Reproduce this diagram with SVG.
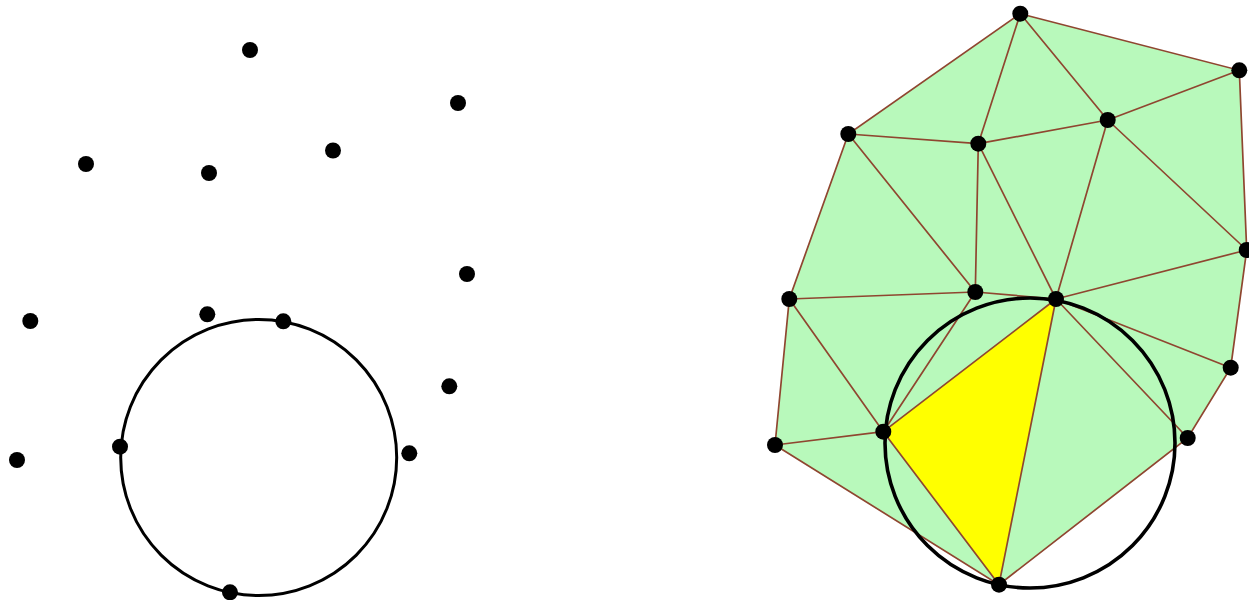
<svg xmlns="http://www.w3.org/2000/svg" width="1249" height="600" viewBox="0 0 1249 600">
<style>
.p{fill:#000}
.c{fill:none;stroke:#000;stroke-width:3}
.c2{fill:none;stroke:#000;stroke-width:3.6}
.e{fill:none;stroke:#8f4630;stroke-width:1.7}
</style>
<defs><circle id="d" class="p" r="8"/></defs>
<rect width="1249" height="600" fill="#fff"/>
<g id="left-circle"><circle class="c" cx="258.700" cy="457.500" r="138"/></g>
<g id="left-points">
<g id="l1"><use href="#d" x="250" y="50"/></g>
<g id="l2"><use href="#d" x="458" y="103"/></g>
<g id="l3"><use href="#d" x="86" y="164"/></g>
<g id="l4"><use href="#d" x="209" y="173"/></g>
<g id="l5"><use href="#d" x="333" y="150.500"/></g>
<g id="l6"><use href="#d" x="467" y="274"/></g>
<g id="l7"><use href="#d" x="30.300" y="321"/></g>
<g id="l8"><use href="#d" x="207.300" y="314.300"/></g>
<g id="l9"><use href="#d" x="283.300" y="321.300"/></g>
<g id="l10"><use href="#d" x="449.300" y="386.300"/></g>
<g id="l11"><use href="#d" x="17" y="460"/></g>
<g id="l12"><use href="#d" x="120" y="446.700"/></g>
<g id="l13"><use href="#d" x="409.300" y="453.300"/></g>
<g id="l14"><use href="#d" x="230" y="592.300"/></g>
</g>
<g id="mesh-fill">
<polygon fill="#b8f9bb" points="1020.300,13.700 1239.300,70.300 1246.700,250 1230.700,367.700 1187.700,438 999,584.700 775,445 789.300,299 848.300,134"/>
<polygon fill="#ffff00" points="883.300,431.700 1056,299 999,584.700"/>
</g>
<g id="connectors" class="e">
<path class="e" d="M1020.300 13.700L1239.300 70.300L1246.700 250L1230.700 367.700L1187.700 438L999 584.700L775 445L789.300 299L848.300 134L1020.300 13.700"/>
<path class="e" d="M1020.300 13.700L978.300 143.700M1020.300 13.700L1107.700 120M1107.700 120L1239.300 70.300M1107.700 120L978.300 143.700M978.300 143.700L848.300 134M848.300 134L975.300 292M978.300 143.700L975.300 292M978.300 143.700L1056 299M1107.700 120L1056 299M1107.700 120L1246.700 250M1056 299L1246.700 250M1056 299L1230.700 367.700M1056 299L1187.700 438M975.300 292L1056 299M975.300 292L789.300 299M975.300 292L883.300 431.700M789.300 299L883.300 431.700M883.300 431.700L775 445M883.300 431.700L1056 299M883.300 431.700L999 584.700M1056 299L999 584.700"/>
</g>
<g id="right-circle"><circle class="c2" cx="1030" cy="443" r="145"/></g>
<g id="right-points">
<g id="r1"><use href="#d" x="1020.300" y="13.700"/></g>
<g id="r2"><use href="#d" x="1239.300" y="70.300"/></g>
<g id="r3"><use href="#d" x="1107.700" y="120"/></g>
<g id="r4"><use href="#d" x="978.300" y="143.700"/></g>
<g id="r5"><use href="#d" x="848.300" y="134"/></g>
<g id="r6"><use href="#d" x="1246.700" y="250"/></g>
<g id="r7"><use href="#d" x="975.300" y="292"/></g>
<g id="r8"><use href="#d" x="1056" y="299"/></g>
<g id="r9"><use href="#d" x="789.300" y="299"/></g>
<g id="r10"><use href="#d" x="883.300" y="431.700"/></g>
<g id="r11"><use href="#d" x="775" y="445"/></g>
<g id="r12"><use href="#d" x="1230.700" y="367.700"/></g>
<g id="r13"><use href="#d" x="1187.700" y="438"/></g>
<g id="r14"><use href="#d" x="999" y="584.700"/></g>
</g>
</svg>
